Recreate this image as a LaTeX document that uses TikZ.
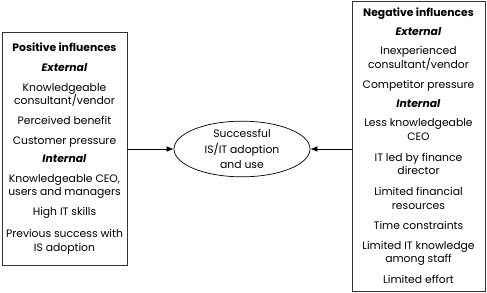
\documentclass[tikz,border=0pt]{standalone}
\usepackage{fontspec}
\setmainfont{Poppins}
\usetikzlibrary{arrows.meta, shapes.geometric}

\begin{document}
\begin{tikzpicture}[
    x=1pt, y=-1pt,
    infbox/.style={
      draw=black!80, line width=0.9pt, align=center, inner sep=0pt,
      font=\fontsize{10.8}{13.8}\selectfont
    },
    goalell/.style={
      ellipse, draw, line width=0.7pt, align=center, inner sep=0pt,
      minimum width=136, minimum height=52,
      font=\fontsize{10.8}{15.5}\selectfont
    },
    fl/.style={-{Latex[length=7pt, width=5.5pt]}, line width=0.6pt}
  ]
    \useasboundingbox (0,0) rectangle (487,292);

    % --- Einflussfaktoren ---
    \node[infbox, minimum width=125, minimum height=233] (pos) at (64.5, 148.5)
      {\textbf{Positive influences}\\[6pt]
       \textbf{\textit{External}}\\[6pt]
       Knowledgeable\\consultant/vendor\\[6pt]
       Perceived benefit\\[6pt]
       Customer pressure\\[4pt]
       \textbf{\textit{Internal}}\\[6pt]
       Knowledgeable CEO,\\users and managers\\[6pt]
       High IT skills\\[8pt]
       Previous success with\\IS adoption};

    \node[infbox, minimum width=133, minimum height=290] (neg) at (418.5, 146)
      {\textbf{Negative influences}\\[5pt]
       \textbf{\textit{External}}\\[5pt]
       Inexperienced\\consultant/vendor\\[7pt]
       Competitor pressure\\[5pt]
       \textbf{\textit{Internal}}\\[5pt]
       Less knowledgeable\\CEO\\[7pt]
       IT led by finance\\director\\[7pt]
       Limited financial\\resources\\[6pt]
       Time constraints\\[6pt]
       Limited IT knowledge\\among staff\\[7pt]
       Limited effort};

    % --- Ergebnis ---
    \node[goalell] (goal) at (242, 149)
      {Successful\\IS/IT adoption\\and use};

    \draw[fl] (pos.east |- goal) -- (goal.west);
    \draw[fl] (neg.west |- goal) -- (goal.east);
  \end{tikzpicture}
\end{document}
